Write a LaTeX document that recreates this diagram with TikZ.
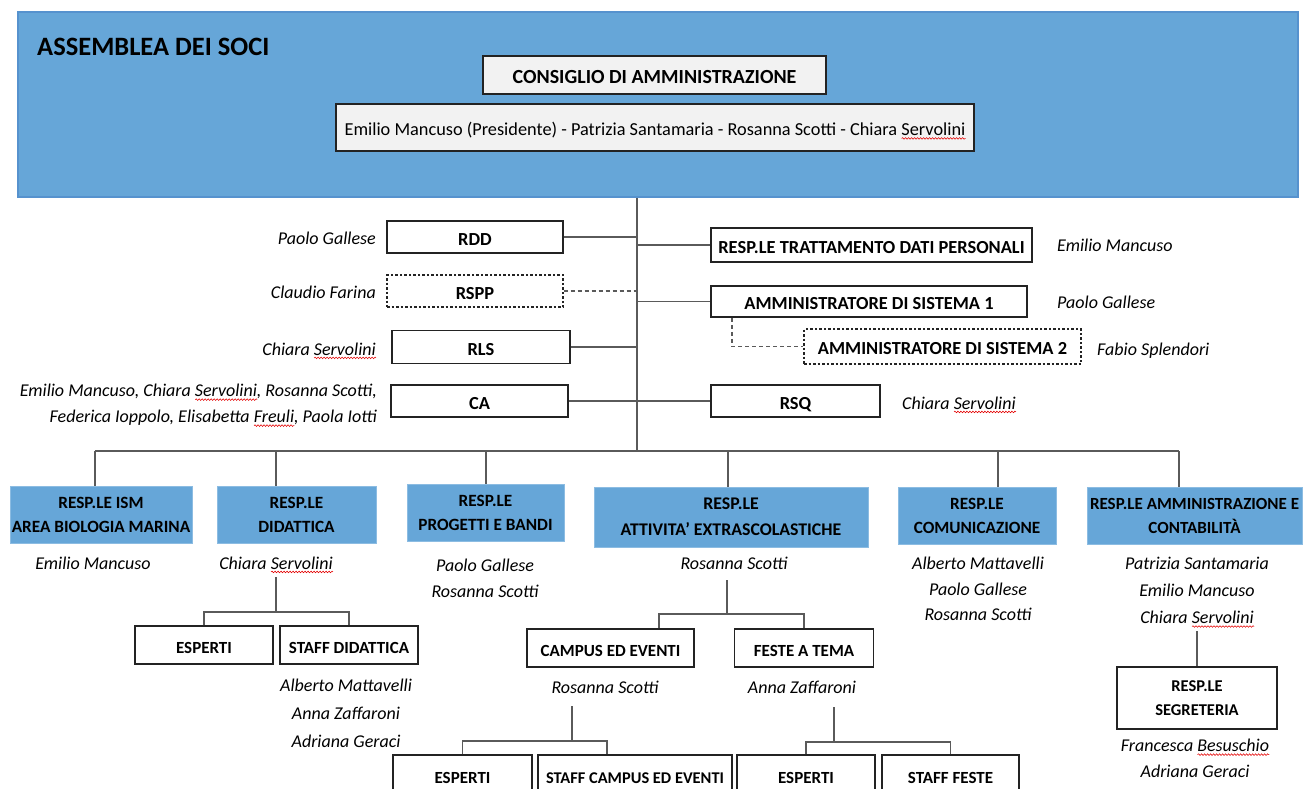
\documentclass[tikz,border=0pt]{standalone}
\usepackage{fontspec}
\setmainfont{Carlito}
\usetikzlibrary{decorations.pathmorphing}
\definecolor{blu}{RGB}{102,166,216}
\definecolor{bluedge}{RGB}{86,146,206}
\definecolor{lncol}{RGB}{90,90,90}
\definecolor{edgecol}{RGB}{35,35,35}
\definecolor{boxfill}{RGB}{242,242,242}
\newsavebox\sqbox
\newlength\sqlen
\newcommand\sqw[1]{\leavevmode\sbox\sqbox{#1}\setlength\sqlen{\wd\sqbox}\rlap{\usebox\sqbox}\makebox[\sqlen][l]{\raisebox{-4pt}[0pt][0pt]{\tikz\draw[red!90!black,solid,line width=0.55pt,decorate,decoration={snake,amplitude=0.8pt,segment length=3pt}] (0pt,0pt)--(\sqlen,0pt);}}}
\tikzset{
 wbox/.style={draw=edgecol, line width=1.5pt, fill=white, inner sep=0pt, font=\bfseries\fontsize{17}{24}\selectfont, align=center},
 sl/.style={text height=16pt, text depth=0pt},
 tbox/.style={wbox, sl, font=\bfseries\fontsize{18.4}{24}\selectfont},
 dbox/.style={tbox, line width=1.2pt, dash pattern=on 2.5pt off 2pt},
 bbox/.style={fill=blu, draw=blu!75!white, line width=0.6pt, inner sep=0pt, font=\bfseries\fontsize{17.2}{24}\selectfont, align=center},
 nm/.style={inner sep=0pt, font=\itshape\fontsize{18}{27}\selectfont, align=center},
 conn/.style={draw=lncol, line width=1.8pt},
 dconn/.style={draw=lncol, line width=1.5pt, dash pattern=on 4pt off 3pt},
}
\begin{document}
\begin{tikzpicture}[x=1pt,y=-1pt]
\useasboundingbox (0,0) rectangle (1303,789);
\fill[white] (0,0) rectangle (1303,789);
\clip (0,0) rectangle (1303,789);
% top block
\node[fill=blu, draw=bluedge, line width=2.5pt, minimum width=1280pt, minimum height=185pt, inner sep=0pt] (soci) at (658,104.5) {};
\node[anchor=base west, inner sep=0pt, font=\bfseries\fontsize{26.5}{30}\selectfont] (sociT) at (37,56) {ASSEMBLEA DEI SOCI};
\node[wbox, sl, fill=boxfill, minimum width=343pt, minimum height=38pt, text height=17pt, font=\bfseries\fontsize{20}{24}\selectfont] (cda) at (654.5,75) {CONSIGLIO DI AMMINISTRAZIONE};
\node[wbox, sl, fill=boxfill, minimum width=638pt, minimum height=47pt, font=\fontsize{18.3}{24}\selectfont] (memb) at (655,127.5) {Emilio Mancuso (Presidente) - Patrizia Santamaria - Rosanna Scotti - Chiara \sqw{Servolini}};
% trunk
\coordinate (tb) at (637,451);
\draw[conn] (soci.south -| tb) -- (tb);
% left boxes
\node[tbox, minimum width=176pt, minimum height=32pt] (rdd) at (475,237) {RDD};
\node[dbox, minimum width=176pt, minimum height=32pt] (rspp) at (475,291) {RSPP};
\node[tbox, minimum width=178pt, minimum height=33pt] (rls) at (481,347) {RLS};
\node[tbox, minimum width=177pt, minimum height=32pt] (ca) at (479.5,401) {CA};
\draw[conn] (rdd.east) -- (rdd.east -| tb);
\draw[dconn] (rspp.east) -- (rspp.east -| tb);
\draw[conn] (rls.east) -- (rls.east -| tb);
\draw[conn] (ca.east) -- (ca.east -| tb);
\node[nm, anchor=base east] (lrdd) at (376,244) {Paolo Gallese};
\node[nm, anchor=base east] (lrspp) at (376,298) {Claudio Farina};
\node[nm, anchor=base east] (lrls) at (376,355) {Chiara \sqw{Servolini}};
\node[nm, anchor=north east, align=right, font=\itshape\fontsize{18}{26}\selectfont] (lca) at (377,384) {Emilio Mancuso, Chiara \sqw{Servolini}, Rosanna Scotti,\\Federica Ioppolo, Elisabetta \sqw{Freuli}, Paola Iotti};
% right boxes
\node[tbox, minimum width=321pt, minimum height=34pt] (trat) at (871.5,245) {RESP.LE TRATTAMENTO DATI PERSONALI};
\node[tbox, minimum width=316pt, minimum height=31pt] (ams1) at (869,301.5) {AMMINISTRATORE DI SISTEMA 1};
\node[dbox, minimum width=277pt, minimum height=35pt] (ams2) at (942.5,346.5) {AMMINISTRATORE DI SISTEMA 2};
\node[tbox, minimum width=169pt, minimum height=32pt] (rsq) at (795.5,401) {RSQ};
\draw[conn] (tb |- trat.west) -- (trat.west);
\draw[conn] (tb |- ams1.west) -- (ams1.west);
\draw[conn] (tb |- rsq.west) -- (rsq.west);
\coordinate (a2k) at (732,317);
\draw[dconn] (ams1.south -| a2k) -- (a2k |- ams2.west) -- (ams2.west);
\node[nm, anchor=base west] (ltrat) at (1057,251) {Emilio Mancuso};
\node[nm, anchor=base west] (lams1) at (1057,308) {Paolo Gallese};
\node[nm, anchor=base west] (lams2) at (1097,355) {Fabio Splendori};
\node[nm, anchor=base west] (lrsq) at (902,409) {Chiara \sqw{Servolini}};
% bus
\coordinate (d1) at (95,451);
\coordinate (d2) at (276,451);
\coordinate (d3) at (486,451);
\coordinate (d4) at (728,451);
\coordinate (d5) at (998,451);
\coordinate (d6) at (1179,451);
\draw[conn] (d1) -- (d6);
% blue row
\node[bbox, minimum width=182pt, minimum height=57pt] (ism) at (101,514.5) {RESP.LE ISM\\AREA BIOLOGIA MARINA};
\node[bbox, minimum width=159pt, minimum height=57pt] (did) at (296.5,514.5) {RESP.LE\\DIDATTICA};
\node[bbox, minimum width=157pt, minimum height=57pt] (prog) at (485.5,512.5) {RESP.LE\\PROGETTI E BANDI};
\node[bbox, minimum width=274pt, minimum height=60pt, font=\bfseries\fontsize{17.8}{26}\selectfont] (att) at (731,517) {RESP.LE\\ATTIVITA’ EXTRASCOLASTICHE};
\node[bbox, minimum width=158pt, minimum height=57pt] (com) at (977,515.5) {RESP.LE\\COMUNICAZIONE};
\node[bbox, minimum width=215pt, minimum height=57pt, font=\bfseries\fontsize{17}{24}\selectfont] (amm) at (1194.5,515.5) {RESP.LE AMMINISTRAZIONE E\\CONTABILITÀ};
\draw[conn] (d1) -- (d1 |- ism.north);
\draw[conn] (d2) -- (d2 |- did.north);
\draw[conn] (d3) -- (d3 |- prog.north);
\draw[conn] (d4) -- (d4 |- att.north);
\draw[conn] (d5) -- (d5 |- com.north);
\draw[conn] (d6) -- (d6 |- amm.north);
% names under blue row
\node[nm, anchor=base] (nism) at (93,569) {Emilio Mancuso};
\node[nm, anchor=base] (ndid) at (276,569) {Chiara \sqw{Servolini}};
\node[nm, anchor=north, font=\itshape\fontsize{18}{26}\selectfont] (nprog) at (485,559) {Paolo Gallese\\Rosanna Scotti};
\node[nm, anchor=base] (natt) at (734,569) {Rosanna Scotti};
\node[nm, anchor=north, font=\itshape\fontsize{18}{25.5}\selectfont] (ncom) at (978,557) {Alberto Mattavelli\\Paolo Gallese\\Rosanna Scotti};
\node[nm, anchor=north] (namm) at (1197,557) {Patrizia Santamaria\\Emilio Mancuso\\Chiara \sqw{Servolini}};
% didattica subtree
\node[wbox, sl, minimum width=138pt, minimum height=38pt] (esp1) at (204,645) {ESPERTI};
\node[wbox, sl, minimum width=138pt, minimum height=38pt] (stf1) at (349,645) {STAFF DIDATTICA};
\coordinate (s1) at (276,577);
\coordinate (j1) at (276,612);
\draw[conn] (s1) -- (j1);
\draw[conn] (esp1.north) |- (j1) -| (stf1.north);
\node[nm, anchor=north, font=\itshape\fontsize{18}{28}\selectfont] (nstf1) at (346,679) {Alberto Mattavelli\\Anna Zaffaroni\\Adriana Geraci};
% attivita subtree
\node[wbox, sl, minimum width=167pt, minimum height=38pt] (camp) at (610.5,648) {CAMPUS ED EVENTI};
\node[wbox, sl, minimum width=139pt, minimum height=38pt] (fest) at (804,648) {FESTE A TEMA};
\coordinate (s2) at (727,580);
\coordinate (j2) at (727,614);
\coordinate (c2) at (659,614);
\draw[conn] (s2) -- (j2);
\draw[conn] (c2 |- camp.north) -- (c2) -| (fest.north);
\node[nm, anchor=base] (ncamp) at (605,693) {Rosanna Scotti};
\node[nm, anchor=base] (nfest) at (802,693) {Anna Zaffaroni};
% campus subtree
\node[wbox, sl, minimum width=139pt, minimum height=40pt] (esp2) at (462.5,775) {ESPERTI};
\node[wbox, sl, minimum width=194pt, minimum height=40pt, font=\bfseries\fontsize{16.4}{24}\selectfont] (stf2) at (635,775) {STAFF CAMPUS ED EVENTI};
\coordinate (s3) at (572,706);
\coordinate (j3) at (572,741);
\coordinate (c3) at (607,741);
\draw[conn] (s3) -- (j3);
\draw[conn] (esp2.north) |- (c3) -- (c3 |- stf2.north);
% feste subtree
\node[wbox, sl, minimum width=138pt, minimum height=40pt] (esp3) at (806,775) {ESPERTI};
\node[wbox, sl, minimum width=137pt, minimum height=40pt] (stf3) at (950.5,775) {STAFF FESTE};
\coordinate (s4) at (834,707);
\coordinate (j4) at (834,742);
\draw[conn] (s4) -- (j4);
\draw[conn] (esp3.north) |- (j4) -| (stf3.north);
% segreteria
\node[wbox, minimum width=160pt, minimum height=62pt, font=\bfseries\fontsize{16.5}{24}\selectfont] (segr) at (1197,698) {RESP.LE\\SEGRETERIA};
\coordinate (s5) at (1197,631);
\draw[conn] (s5) -- (segr.north);
\node[nm, anchor=north, font=\itshape\fontsize{18}{26}\selectfont] (nsegr) at (1195,739) {Francesca \sqw{Besuschio}\\Adriana Geraci};
\end{tikzpicture}
\end{document}
